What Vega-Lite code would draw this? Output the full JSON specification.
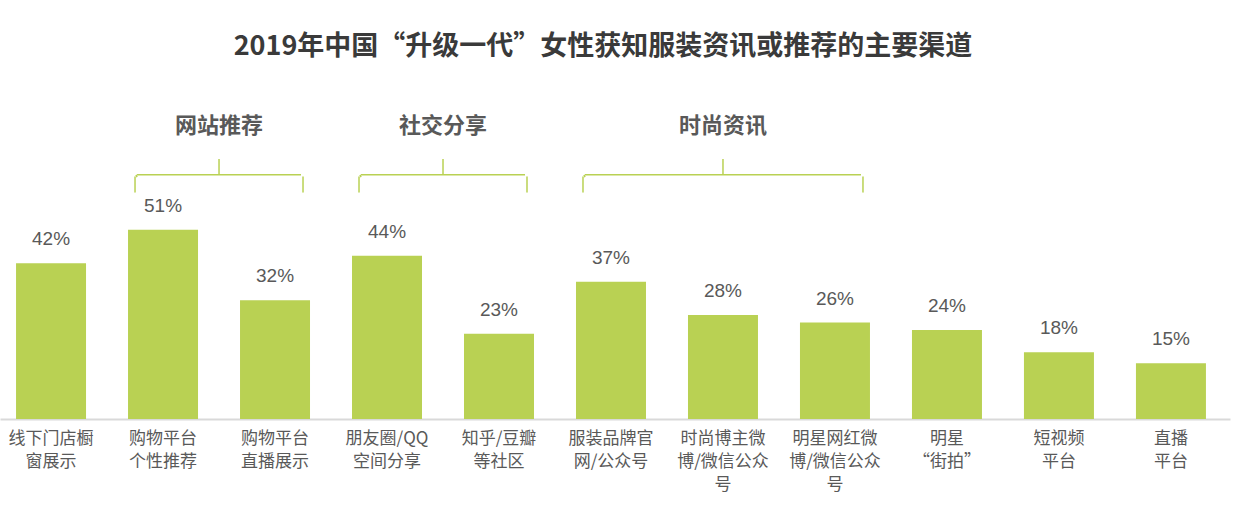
{
  "$schema": "https://vega.github.io/schema/vega-lite/v6.json",
  "width": 1230,
  "height": 338,
  "padding": {"left": 0, "right": 10, "top": 33, "bottom": 0},
  "autosize": {"type": "pad"},
  "title": {"text": "2019年中国“升级一代”女性获知服装资讯或推荐的主要渠道", "fontSize": 27, "fontWeight": "bold", "color": "#3a3a3a", "font": "Noto Sans CJK SC", "anchor": "middle", "dx": -12, "offset": 20},
  "config": {"view": {"stroke": null}, "font": "Noto Sans CJK SC"},
  "datasets": {
    "bars": [
      {"cat": "线下门店橱|窗展示", "v": 0.42},
      {"cat": "购物平台|个性推荐", "v": 0.51},
      {"cat": "购物平台|直播展示", "v": 0.32},
      {"cat": "朋友圈/QQ|空间分享", "v": 0.44},
      {"cat": "知乎/豆瓣|等社区", "v": 0.23},
      {"cat": "服装品牌官|网/公众号", "v": 0.37},
      {"cat": "时尚博主微|博/微信公众|号", "v": 0.28},
      {"cat": "明星网红微|博/微信公众|号", "v": 0.26},
      {"cat": "明星|“街拍”", "v": 0.24},
      {"cat": "短视频|平台", "v": 0.18},
      {"cat": "直播|平台", "v": 0.15}
    ],
    "groups": [
      {"group": "网站推荐", "start": "购物平台|个性推荐", "end": "购物平台|直播展示", "mid": "购物平台|个性推荐", "span": 2},
      {"group": "社交分享", "start": "朋友圈/QQ|空间分享", "end": "知乎/豆瓣|等社区", "mid": "朋友圈/QQ|空间分享", "span": 2},
      {"group": "时尚资讯", "start": "服装品牌官|网/公众号", "end": "明星网红微|博/微信公众|号", "mid": "时尚博主微|博/微信公众|号", "span": 3}
    ]
  },
  "layer": [
    {
      "data": {"name": "bars"},
      "mark": {"type": "bar", "color": "#b9d153"},
      "encoding": {
        "x": {
          "field": "cat", "type": "nominal",
          "scale": {
            "domain": ["线下门店橱|窗展示", "购物平台|个性推荐", "购物平台|直播展示", "朋友圈/QQ|空间分享", "知乎/豆瓣|等社区", "服装品牌官|网/公众号", "时尚博主微|博/微信公众|号", "明星网红微|博/微信公众|号", "明星|“街拍”", "短视频|平台", "直播|平台"],
            "paddingInner": 0.375, "paddingOuter": 0.179, "align": 0.4
          },
          "axis": {
            "title": null, "labelExpr": "split(datum.label, '|')", "labelAngle": 0,
            "labelFontSize": 17, "labelColor": "#595959", "labelLineHeight": 23,
            "labelPadding": 11, "ticks": false, "domainColor": "#d9d9d9", "domainWidth": 2,
            "labelFont": "Noto Sans CJK SC", "labelLimit": 200
          }
        },
        "y": {"field": "v", "type": "quantitative", "scale": {"domain": [0, 0.911], "nice": false, "zero": true}, "axis": null}
      }
    },
    {
      "data": {"name": "bars"},
      "mark": {"type": "text", "dy": -24, "baseline": "middle", "fontSize": 19, "color": "#595959", "font": "Liberation Sans"},
      "encoding": {
        "x": {"field": "cat", "type": "nominal"},
        "y": {"field": "v", "type": "quantitative"},
        "text": {"field": "v", "type": "quantitative", "format": ".0%"}
      }
    },
    {
      "data": {"name": "groups"},
      "mark": {"type": "rule", "color": "#b9d153", "strokeWidth": 1.5, "xOffset": -26, "x2Offset": 26},
      "encoding": {
        "x": {"field": "start", "type": "nominal"},
        "x2": {"field": "end"},
        "y": {"datum": 0.658, "type": "quantitative"}
      }
    },
    {
      "data": {"name": "groups"},
      "mark": {"type": "rule", "color": "#b9d153", "strokeWidth": 1.5, "xOffset": -28, "strokeCap": "round"},
      "encoding": {
        "x": {"field": "start", "type": "nominal"},
        "y": {"datum": 0.652, "type": "quantitative"},
        "y2": {"datum": 0.612}
      }
    },
    {
      "data": {"name": "groups"},
      "mark": {"type": "rule", "color": "#b9d153", "strokeWidth": 1.5, "xOffset": 28, "strokeCap": "round"},
      "encoding": {
        "x": {"field": "end", "type": "nominal"},
        "y": {"datum": 0.652, "type": "quantitative"},
        "y2": {"datum": 0.612}
      }
    },
    {
      "data": {"name": "groups"},
      "mark": {"type": "rule", "color": "#b9d153", "strokeWidth": 1.5, "xOffset": -27, "x2Offset": -26},
      "encoding": {
        "x": {"field": "start", "type": "nominal"},
        "x2": {"field": "start"},
        "y": {"datum": 0.658, "type": "quantitative"},
        "y2": {"datum": 0.652}
      }
    },
    {
      "data": {"name": "groups"},
      "transform": [{"filter": "datum.span == 2"}],
      "mark": {"type": "rule", "color": "#b9d153", "strokeWidth": 1.5, "xOffset": 56},
      "encoding": {
        "x": {"field": "mid", "type": "nominal"},
        "y": {"datum": 0.701, "type": "quantitative"},
        "y2": {"datum": 0.66}
      }
    },
    {
      "data": {"name": "groups"},
      "transform": [{"filter": "datum.span == 3"}],
      "mark": {"type": "rule", "color": "#b9d153", "strokeWidth": 1.5},
      "encoding": {
        "x": {"field": "mid", "type": "nominal"},
        "y": {"datum": 0.701, "type": "quantitative"},
        "y2": {"datum": 0.66}
      }
    },
    {
      "data": {"name": "groups"},
      "transform": [{"filter": "datum.span == 2"}],
      "mark": {"type": "text", "fontSize": 22, "fontWeight": "bold", "color": "#595959", "baseline": "middle", "xOffset": 56},
      "encoding": {
        "x": {"field": "mid", "type": "nominal"},
        "y": {"datum": 0.79, "type": "quantitative"},
        "text": {"field": "group"}
      }
    },
    {
      "data": {"name": "groups"},
      "transform": [{"filter": "datum.span == 3"}],
      "mark": {"type": "text", "fontSize": 22, "fontWeight": "bold", "color": "#595959", "baseline": "middle"},
      "encoding": {
        "x": {"field": "mid", "type": "nominal"},
        "y": {"datum": 0.79, "type": "quantitative"},
        "text": {"field": "group"}
      }
    }
  ]
}
